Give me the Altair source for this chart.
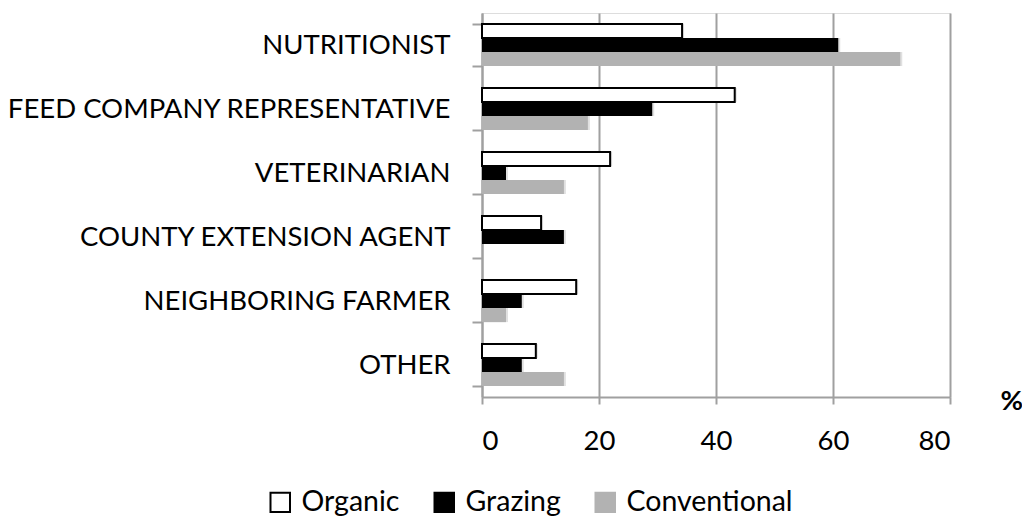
import altair as alt
import pandas as pd

categories = ["NUTRITIONIST", "FEED COMPANY REPRESENTATIVE", "VETERINARIAN",
              "COUNTY EXTENSION AGENT", "NEIGHBORING FARMER", "OTHER"]
series = ["Organic", "Grazing", "Conventional"]
organic = [34.2, 43.2, 21.9, 10.1, 16.1, 9.2]
grazing = [60.9, 29.1, 4.1, 14.0, 6.8, 6.8]
conventional = [71.5, 18.1, 14.0, 0.0, 4.1, 14.0]

rows = []
for i, c in enumerate(categories):
    for s, vals in zip(series, [organic, grazing, conventional]):
        rows.append({"source": c, "farm": s, "pct": vals[i]})
df = pd.DataFrame(rows)

FONT = "Lato"
FS = 27.5
LFS = 28.5
GRAY = "#a0a0a0"

y_enc = alt.Y("source:N", sort=categories, title=None,
              scale=alt.Scale(paddingInner=0.34, paddingOuter=0.17),
              axis=alt.Axis(tickBand="extent", labelFont=FONT, labelFontSize=FS,
                            labelColor="black", labelPadding=22, tickSize=10,
                            tickColor=GRAY, tickWidth=2, domainColor=GRAY,
                            domainWidth=2, grid=False, labelLimit=600))
yoff = alt.YOffset("farm:N", sort=series,
                   scale=alt.Scale(paddingInner=0, paddingOuter=0))
x_enc = alt.X("pct:Q", scale=alt.Scale(domain=[0, 80]),
              axis=alt.Axis(values=[0, 20, 40, 60, 80], grid=True, gridColor=GRAY,
                            gridWidth=2, domainColor=GRAY, domainWidth=2,
                            tickColor=GRAY, tickWidth=2, tickSize=7,
                            labelFont=FONT, labelFontSize=FS, labelColor="black",
                            labelPadding=23, title="%", titleFont=FONT,
                            titleFontSize=FS, titleFontWeight="bold",
                            titleX=518, titleY=4, titleAnchor="start",
                            titleAlign="left", titleBaseline="middle"))

shadow = alt.Chart(df).mark_bar(color="black", opacity=0.12, xOffset=2, yOffset=2).encode(
    x=x_enc, y=y_enc, yOffset=yoff
)

leg = alt.Legend(orient="none", legendX=-216, legendY=475,
                 direction="horizontal", symbolType="square",
                 symbolSize=380, symbolStrokeWidth=2,
                 labelFont=FONT, labelFontSize=LFS, labelLimit=400,
                 labelColor="black", columnPadding=30,
                 labelOffset=7)

bars = alt.Chart(df).mark_bar(strokeWidth=2).encode(
    x=x_enc,
    y=y_enc,
    yOffset=yoff,
    fill=alt.Fill("farm:N", sort=series, title=None,
                  scale=alt.Scale(domain=series, range=["white", "black", "#b2b2b2"]),
                  legend=leg),
    stroke=alt.Stroke("farm:N", sort=series, title=None,
                      scale=alt.Scale(domain=series, range=["black", "black", "#b2b2b2"]),
                      legend=leg),
    strokeWidth=alt.condition(alt.datum.farm == "Organic", alt.value(2), alt.value(0)),
)

chart = alt.layer(shadow, bars).properties(
    width=468, height=384,
    autosize=alt.AutoSizeParams(type="none"),
    padding={"left": 474, "top": 5, "right": 72, "bottom": 120},
).configure_view(stroke=None).configure(background="white")

chart.save("out.html", embed_options={"renderer": "svg", "actions": False})
